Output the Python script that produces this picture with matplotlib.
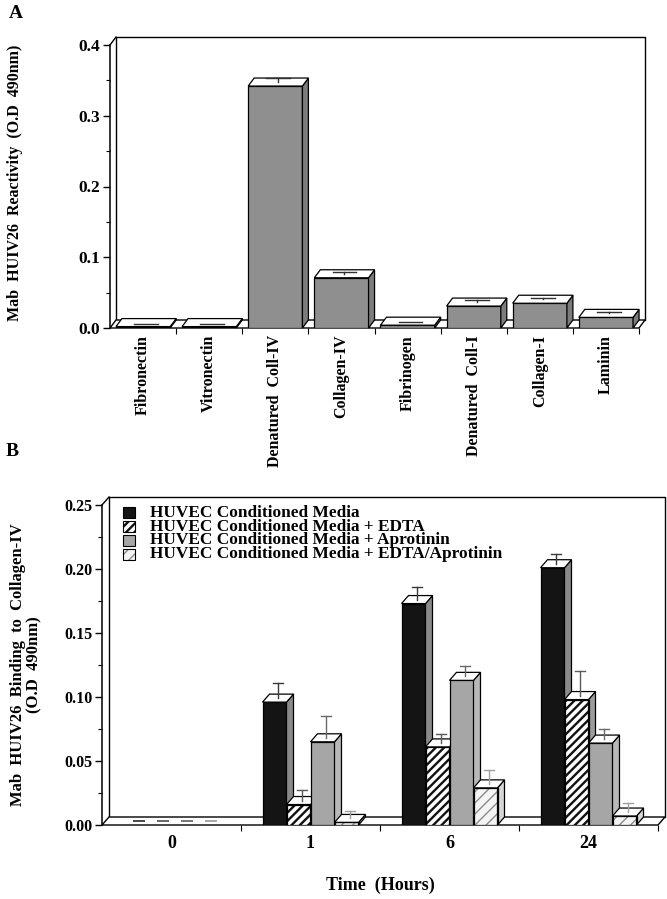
import matplotlib
matplotlib.use("Agg")
import matplotlib.pyplot as plt
from matplotlib.patches import Polygon, Rectangle
from matplotlib.ticker import MultipleLocator, FormatStrFormatter
from matplotlib.transforms import Affine2D

# ---------------- data ----------------
# Panel A
substrates = ["Fibronectin", "Vitronectin", "Denatured  Coll-IV", "Collagen-IV",
              "Fibrinogen", "Denatured  Coll-I", "Collagen-I", "Laminin"]
reactivity = [0.002, 0.002, 0.342, 0.071, 0.004, 0.031, 0.035, 0.015]
reactivity_err = [0.004, 0.004, 0.011, 0.008, 0.005, 0.009, 0.008, 0.007]

# Panel B
times = ["0", "1", "6", "24"]
series_names = ["HUVEC Conditioned Media",
                "HUVEC Conditioned Media + EDTA",
                "HUVEC Conditioned Media + Aprotinin",
                "HUVEC Conditioned Media + EDTA/Aprotinin"]
cm = [0.0, 0.096, 0.173, 0.201]
cm_err = [0.0, 0.015, 0.013, 0.011]
cm_edta = [0.0, 0.016, 0.061, 0.098]
cm_edta_err = [0.0, 0.011, 0.010, 0.022]
cm_apro = [0.0, 0.065, 0.113, 0.064]
cm_apro_err = [0.0, 0.020, 0.011, 0.011]
cm_both = [0.0, 0.002, 0.029, 0.007]
cm_both_err = [0.0, 0.009, 0.014, 0.010]

plt.rcParams["hatch.linewidth"] = 1.0
FONT = ["Liberation Serif", "DejaVu Serif"]

W, H = 667, 899
fig = plt.figure(figsize=(W / 100, H / 100), dpi=100)
pix = Affine2D().scale(1 / W, -1 / H).translate(0, 1) + fig.transFigure


def frac(l, t, r, b):
    return [l / W, 1 - b / H, (r - l) / W, (b - t) / H]


def setup(ax, n, ymax, major, minor, fmt, dxd, dyd, labels, xrot, xfs, xpad, yfs):
    ax.set_xlim(0, n)
    ax.set_ylim(0, ymax)
    ax.set_facecolor("none")
    for s in ["top", "right", "bottom"]:
        ax.spines[s].set_visible(False)
    ax.spines["left"].set_linewidth(1.1)
    ax.spines["left"].set_zorder(50)
    ax.yaxis.set_major_locator(MultipleLocator(major))
    ax.yaxis.set_minor_locator(MultipleLocator(minor))
    ax.yaxis.set_major_formatter(FormatStrFormatter(fmt))
    ax.tick_params(axis="y", which="major", length=5, width=1.0, pad=2)
    ax.tick_params(axis="y", which="minor", length=3, width=0.8)
    centers = [i + 0.5 for i in range(n)]
    ax.set_xticks(centers)
    ax.set_xticklabels(labels, rotation=xrot)
    ax.set_xticks(list(range(1, n + 1)), minor=True)
    ax.tick_params(axis="x", which="major", length=0, pad=xpad)
    ax.tick_params(axis="x", which="minor", length=4, width=0.8)
    for t in ax.get_xticklabels():
        t.set_fontfamily(FONT)
        t.set_fontweight("bold")
        t.set_fontsize(xfs)
    for t in ax.get_yticklabels():
        t.set_fontfamily(FONT)
        t.set_fontweight("bold")
        t.set_fontsize(yfs)
    # floor
    ax.add_patch(Polygon([(0, 0), (n, 0), (n + dxd, dyd), (dxd, dyd)], closed=True,
                         fc="white", ec="black", lw=1.0, zorder=1, clip_on=False))
    # back wall
    ax.plot([dxd, dxd, n + dxd, n + dxd], [dyd, ymax + dyd, ymax + dyd, dyd],
            color="black", lw=1.0, clip_on=False, zorder=0.5)
    ax.plot([0, dxd], [ymax, ymax + dyd], color="black", lw=1.0, clip_on=False, zorder=0.5)
    return centers


def bar3d(ax, x, h, w, dxd, dyd, front, side, err, errcolor, z,
          hatch=None, hatchcolor=None, hatch_lw=1.0, zero_dash=False):
    if h <= 0 and zero_dash:
        ax.plot([x + dxd / 2 - w / 4, x + dxd / 2 + w / 4], [dyd / 2, dyd / 2],
                color=errcolor, lw=1.3, zorder=z, solid_capstyle="butt")
        return
    x0, x1 = x - w / 2, x + w / 2
    if hatch:
        with plt.rc_context({"hatch.linewidth": hatch_lw}):
            ax.bar(x, h, w, color=front, edgecolor=hatchcolor, hatch=hatch, lw=0, zorder=z)
        ax.bar(x, h, w, fill=False, edgecolor="black", lw=0.9, zorder=z + 0.01)
    else:
        ax.bar(x, h, w, color=front, edgecolor="black", lw=0.9, zorder=z)
    ax.add_patch(Polygon([(x1, 0), (x1 + dxd, dyd), (x1 + dxd, h + dyd), (x1, h)],
                         closed=True, fc=side, ec="black", lw=0.9, zorder=z, clip_on=False))
    ax.add_patch(Polygon([(x0, h), (x1, h), (x1 + dxd, h + dyd), (x0 + dxd, h + dyd)],
                         closed=True, fc="white", ec="black", lw=0.9, zorder=z, clip_on=False))
    xe = x + dxd / 2
    base = h + dyd / 2
    top = h + err
    if top > base:
        ax.plot([xe, xe], [base, top], color=errcolor, lw=1.0, zorder=z + 0.02, clip_on=False)
    ax.plot([xe - w * 0.22, xe + w * 0.22], [top, top], color=errcolor, lw=1.0,
            zorder=z + 0.02, clip_on=False)


# ---------------- Panel A ----------------
axA = fig.add_axes(frac(110, 45, 639, 328))
nA = len(substrates)
dxA = 6 / (529 / nA)
dyA = 8 / (283 / 0.4)
cA = setup(axA, nA, 0.4, 0.1, 0.05, "%.1f", dxA, dyA, substrates, 90, 11.5, 5, 12.5)
for t in axA.get_xticklabels():
    t.set_verticalalignment("top")
wA = 0.82
for i, (v, e) in enumerate(zip(reactivity, reactivity_err)):
    bar3d(axA, cA[i], v, wA, dxA, dyA, "#8f8f8f", "#7c7c7c", e, "#303030", 2 + i)

fig.text(16, 13, "A", transform=pix, ha="center", va="center", fontsize=14,
         fontweight="bold", family=FONT)
fig.text(15, 183, "Mab  HUIV26  Reactivity  (O.D  490nm)", transform=pix,
         rotation=90, ha="center", va="center", fontsize=11.5, fontweight="bold", family=FONT)

# ---------------- Panel B ----------------
axB = fig.add_axes(frac(102, 505, 658, 825))
nB = len(times)
dxB = 7 / (556 / nB)
dyB = 8 / (320 / 0.25)
cB = setup(axB, nB, 0.25, 0.05, 0.025, "%.2f", dxB, dyB, times, 0, 13, 7, 11.5)
wB = 24 / (556 / nB)

series = [cm, cm_edta, cm_apro, cm_both]
errs = [cm_err, cm_edta_err, cm_apro_err, cm_both_err]
fronts = ["#141414", "#ffffff", "#a6a6a6", "#f4f4f4"]
sides = ["#8a8a8a", "#9c9c9c", "#b8b8b8", "#d6d6d6"]
hatches = [None, "////", None, "///"]
hcolors = [None, "#111111", None, "#8a8a8a"]
hlws = [1.0, 1.7, 1.0, 1.0]
ecolors = ["#3a3a3a", "#5a5a5a", "#6a6a6a", "#a0a0a0"]
for g in range(nB):
    for s in range(4):
        x = cB[g] + (s - 1.5) * wB
        bar3d(axB, x, series[s][g], wB, dxB, dyB, fronts[s], sides[s], errs[s][g],
              ecolors[s], 2 + g * 4 + s, hatch=hatches[s], hatchcolor=hcolors[s],
              hatch_lw=hlws[s], zero_dash=True)

# legend (keys + one multi-line text block with tight line spacing)
for k in range(len(series_names)):
    yc = 512 + 14 * k
    if hatches[k]:
        with plt.rc_context({"hatch.linewidth": hlws[k]}):
            fig.patches.append(Rectangle((123, yc - 5.5), 12, 11, transform=pix,
                                         fc=fronts[k], ec=hcolors[k], hatch=hatches[k], lw=0))
        fig.patches.append(Rectangle((123, yc - 5.5), 12, 11, transform=pix,
                                     fill=False, ec="black", lw=0.8))
    else:
        fig.patches.append(Rectangle((123, yc - 5.5), 12, 11, transform=pix,
                                     fc=fronts[k], ec="black", lw=0.8))
fig.text(150, 533.5, "\n".join(series_names), transform=pix, ha="left", va="center",
         ma="left", fontsize=12.4, fontweight="bold", family=FONT, linespacing=0.79)

fig.text(12, 451, "B", transform=pix, ha="center", va="center", fontsize=14,
         fontweight="bold", family=FONT)
fig.text(26, 665, "Mab  HUIV26  Binding  to  Collagen-IV\n(O.D  490nm)", transform=pix,
         rotation=90, ha="center", va="center", ma="center", fontsize=12,
         fontweight="bold", family=FONT, linespacing=1.0)
fig.text(380, 885, "Time  (Hours)", transform=pix, ha="center", va="center",
         fontsize=13, fontweight="bold", family=FONT)

fig.savefig("out.png", dpi=100, facecolor="white")
